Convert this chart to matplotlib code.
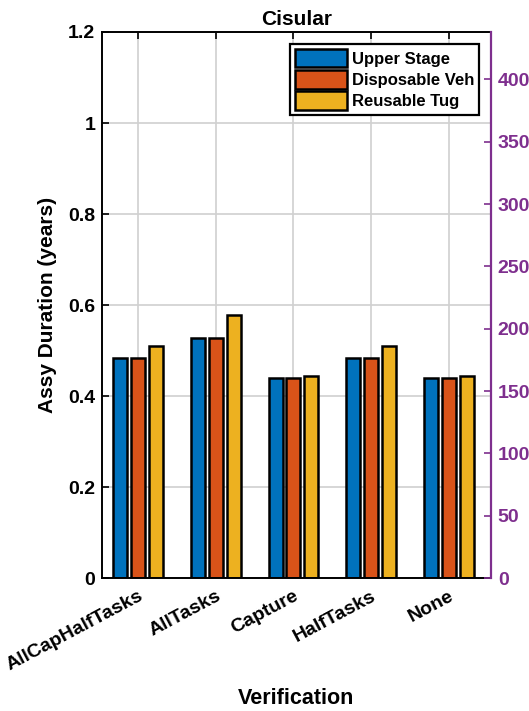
import numpy as np
import matplotlib.pyplot as plt

plt.rcParams['font.family'] = ['Liberation Sans', 'DejaVu Sans']
plt.rcParams['font.weight'] = 'bold'

categories = ['AllCapHalfTasks', 'AllTasks', 'Capture', 'HalfTasks', 'None']
series = ['Upper Stage', 'Disposable Veh', 'Reusable Tug']
upper_stage = [0.483, 0.527, 0.440, 0.483, 0.440]
disposable_veh = [0.483, 0.527, 0.440, 0.483, 0.440]
reusable_tug = [0.510, 0.577, 0.445, 0.510, 0.445]
colors = ['#0072BD', '#D95319', '#EDB120']
purple = '#7E2F8E'

fig = plt.figure(figsize=(5.29, 7.11), dpi=100)
ax = fig.add_axes([0.193, 0.187, 0.735, 0.768])

x = np.arange(1, len(categories) + 1)
offsets = [-0.23, 0.0, 0.23]
for vals, off, c, name in zip([upper_stage, disposable_veh, reusable_tug], offsets, colors, series):
    ax.bar(x + off, vals, width=0.18, color=c, edgecolor='black', linewidth=1.8,
           label=name, zorder=2)

ax.set_xlim(0.54, 5.54)
ax.set_ylim(0, 1.2)
ax.set_yticks([0, 0.2, 0.4, 0.6, 0.8, 1, 1.2])
ax.set_yticklabels(['0', '0.2', '0.4', '0.6', '0.8', '1', '1.2'])
ax.set_xticks(x)
ax.set_xticklabels(categories, rotation=28, ha='right', rotation_mode='anchor')
ax.tick_params(direction='in', length=5, width=1.2, labelsize=14, top=True, pad=5)
ax.tick_params(axis='x', pad=7)
ax.grid(True, color='#d0d0d0', linewidth=1.2, zorder=0)
ax.set_axisbelow(True)
for s in ['left', 'bottom', 'top']:
    ax.spines[s].set_linewidth(1.4)
ax.spines['right'].set_visible(False)

ax.set_ylabel('Assy Duration (years)', fontsize=15, fontweight='bold', labelpad=8)
ax.set_xlabel('Verification', fontsize=15.5, fontweight='bold', labelpad=10)
ax.set_title('Cisular', fontsize=15, fontweight='bold', pad=5)

# days axis on the right
ax2 = ax.twinx()
ax2.set_ylim(0, 1.2 * 365)
ax2.set_yticks(np.arange(0, 401, 50))
ax2.tick_params(direction='in', length=5, width=1.2, labelsize=14, colors=purple, pad=5)
ax2.spines['right'].set_color(purple)
ax2.spines['right'].set_linewidth(1.6)
for s in ['left', 'bottom', 'top']:
    ax2.spines[s].set_visible(False)

leg = ax.legend(loc='upper right', fontsize=12, frameon=True, fancybox=False,
                edgecolor='black', framealpha=1, handlelength=3.1, handleheight=1.35,
                borderaxespad=0.7, borderpad=0.3, labelspacing=0.15, handletextpad=0.3)
leg.get_frame().set_linewidth(1.6)

fig.savefig('out.png', dpi=100)
